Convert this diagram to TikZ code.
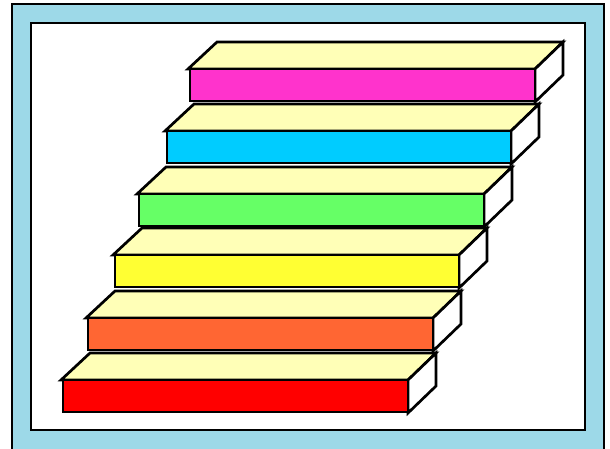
\documentclass[tikz,border=0pt]{standalone}
\definecolor{frameblue}{RGB}{157,217,232}
\definecolor{cream}{RGB}{255,255,183}
\definecolor{cmag}{RGB}{255,51,204}
\definecolor{ccyan}{RGB}{0,204,255}
\definecolor{cgreen}{RGB}{102,255,102}
\definecolor{cyell}{RGB}{255,255,51}
\definecolor{corange}{RGB}{255,102,51}
\definecolor{cred}{RGB}{255,0,0}
\begin{document}
\begin{tikzpicture}[x=1pt,y=-1pt,line join=miter,
  edge/.style={draw=black,line width=2.7pt},
  topface/.style={edge,fill=cream},
  sideface/.style={edge,fill=white},
  frontface/.style={edge}]
\useasboundingbox (0,0) rectangle (610,448);
\clip (0,0) rectangle (610,448);
\fill[white] (0,0) rectangle (610,448);
\draw[line width=2.4pt,fill=frameblue] (12,4) rectangle (604,470);
\draw[line width=2.8pt,fill=white] (31,23) rectangle (585,430);
\foreach \L/\R/\T/\c in {190/535/69/cmag,167/511/131/ccyan,139/484/194/cgreen,115/459/255/cyell,88/433/318/corange,63/408/380/cred}{
  \draw[topface] (\L-2,\T) -- (\L+27,\T-27) -- (\R+28,\T-27) -- (\R,\T) -- cycle;
  \draw[sideface] (\R,\T) -- (\R+28,\T-27) -- (\R+28,\T+6) -- (\R,\T+33) -- cycle;
  \draw[frontface,fill=\c] (\L,\T) rectangle (\R,\T+32);
}
\end{tikzpicture}
\end{document}
